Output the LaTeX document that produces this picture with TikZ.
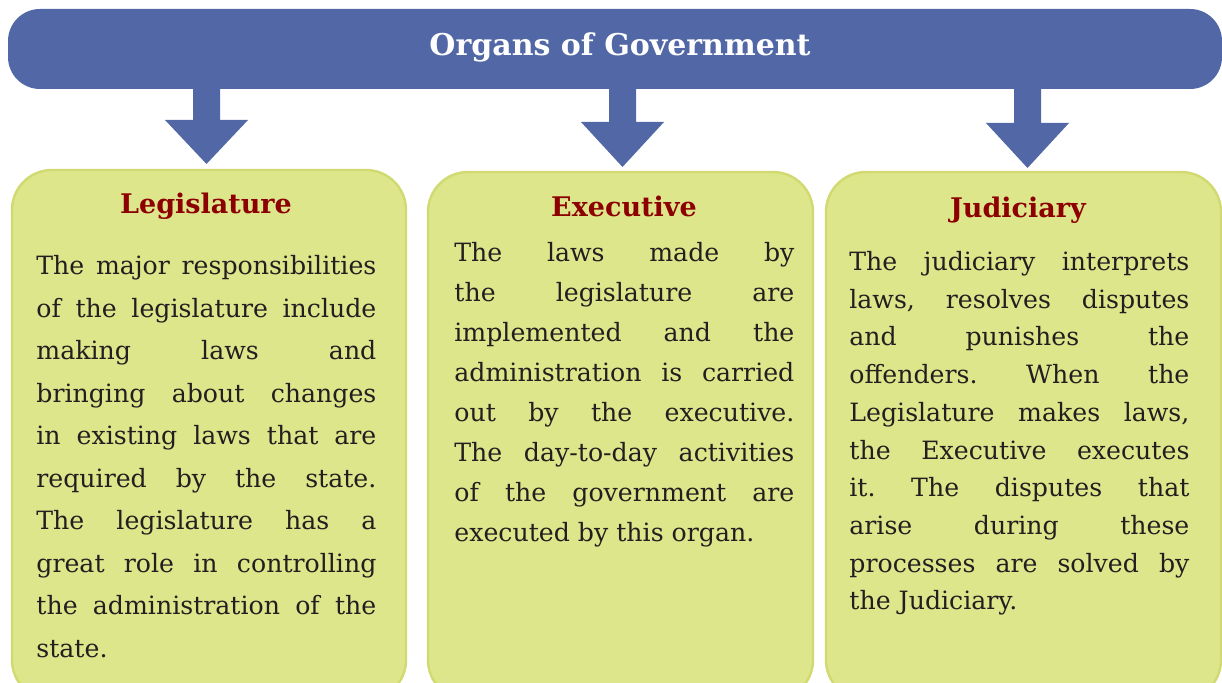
\documentclass[tikz,border=0pt]{standalone}
\usepackage{fontspec}
\setmainfont{DejaVu Serif}
\definecolor{bannerblue}{RGB}{82,103,166}
\definecolor{panelfill}{RGB}{221,230,138}
\definecolor{paneledge}{RGB}{208,218,112}
\definecolor{headred}{RGB}{140,0,0}
\definecolor{bodytext}{RGB}{35,31,32}
\tikzset{
  panel/.style={fill=panelfill, draw=paneledge, line width=1.2pt, rounded corners=20pt},
  heading/.style={text=headred, font=\bfseries\fontsize{13.5}{15}\selectfont, inner sep=0pt},
  bodytxt/.style={text=bodytext, text width=170pt, align=justify, inner sep=0pt, anchor=north west},
}
\begin{document}
\begin{tikzpicture}[x=0.5pt, y=-0.5pt]
   \useasboundingbox (0,0) rectangle (1222,683);
   \hyphenpenalty=10000 \tolerance=10000 \frenchspacing

   % Draw banner
   \fill[bannerblue, rounded corners=16pt] (8,9) rectangle (1222,89);
   \node[text=white, font=\bfseries\fontsize{15}{18}\selectfont] (banner) at (620,47) {Organs of Government};

   % Draw arrows
   \foreach \x/\top/\tip in {206.5/120/164, 622.5/122/167, 1027.5/123/168}
      \fill[bannerblue] (\x-13.5,88) -- (\x+13.5,88) -- (\x+13.5,\top) -- (\x+41.5,\top)
         -- (\x,\tip) -- (\x-41.5,\top) -- (\x-13.5,\top) -- cycle;

   % Draw panels
   \draw[panel] (12,170) rectangle (406,700);
   \draw[panel] (428,172) rectangle (813,700);
   \draw[panel] (826,172) rectangle (1221,700);

   % Legislature
   \node[heading] (leg) at (206,206) {Legislature};
   \node[bodytxt, font=\fontsize{12.6}{21.25}\selectfont] (legtxt) at (36,255) {%
      The major responsibilities\linebreak
      of the legislature include\linebreak
      making laws and\linebreak
      bringing about changes\linebreak
      in existing laws that are\linebreak
      required by the state.\linebreak
      The legislature has a\linebreak
      great role in controlling\linebreak
      the administration of the\linebreak
      state.};

   % Executive
   \node[heading] (exe) at (624,206) {Executive};
   \node[bodytxt, font=\fontsize{12.6}{20}\selectfont] (exetxt) at (454,242) {%
      The laws made by\linebreak
      the legislature are\linebreak
      implemented and the\linebreak
      administration is carried\linebreak
      out by the executive.\linebreak
      The day-to-day activities\linebreak
      of the government are\linebreak
      executed by this organ.};

   % Judiciary
   \node[heading] (jud) at (1018,210) {Judiciary};
   \node[bodytxt, font=\fontsize{12.6}{18.85}\selectfont] (judtxt) at (849,251) {%
      The judiciary interprets\linebreak
      laws, resolves disputes\linebreak
      and punishes the\linebreak
      offenders. When the\linebreak
      Legislature makes laws,\linebreak
      the Executive executes\linebreak
      it. The disputes that\linebreak
      arise during these\linebreak
      processes are solved by\linebreak
      the Judiciary.};
\end{tikzpicture}
\end{document}
